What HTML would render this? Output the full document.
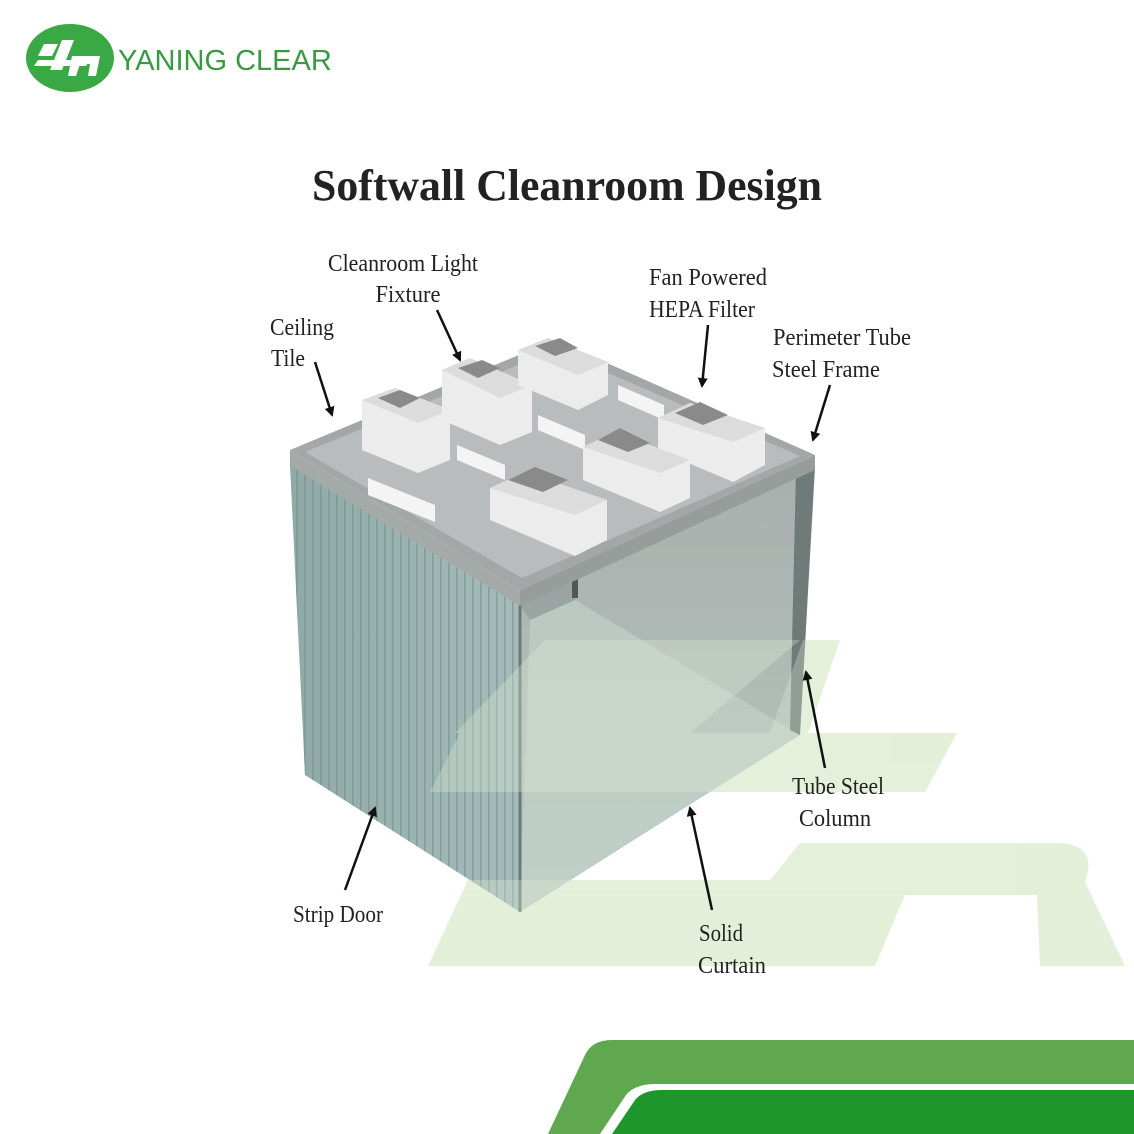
<!DOCTYPE html>
<html><head><meta charset="utf-8"><style>
html,body{margin:0;padding:0;background:#fff;}
svg{display:block}
text{font-family:"Liberation Serif",serif;fill:#222;}
</style></head><body>
<svg width="1134" height="1134" viewBox="0 0 1134 1134" xmlns="http://www.w3.org/2000/svg">
<defs>
<marker id="ah" markerWidth="10" markerHeight="10" refX="8" refY="5" orient="auto" markerUnits="userSpaceOnUse" viewBox="0 0 10 10">
<path d="M0,0 L10,5 L0,10 z" fill="#111"/></marker>
<linearGradient id="lw" x1="0" y1="0" x2="1" y2="0">
<stop offset="0" stop-color="#8fa9a6"/><stop offset="1" stop-color="#a6bcbb"/></linearGradient>
<linearGradient id="rw" x1="0" y1="0" x2="0" y2="1">
<stop offset="0" stop-color="#a9afad"/><stop offset="1" stop-color="#b7c8bf"/></linearGradient>
<pattern id="strip" width="8" height="10" patternUnits="userSpaceOnUse">
<rect width="8" height="10" fill="none"/><rect x="0" width="1.6" height="10" fill="#6f8f8b" opacity="0.6"/></pattern>
</defs>

<!-- watermark -->
<g fill="#e4f0da">
<polygon points="803,640 840,640 808,733 770,733"/>
<polygon points="460,733 957,733 925,792 430,792"/>
<path d="M428,966 L468,880 L770,880 L800,843 L1060,843 Q1098,845 1085,882 L1125,966 L1040,966 L1037,895 L905,895 L875,966 Z"/>
</g>

<!-- logo -->
<ellipse cx="70" cy="58" rx="44" ry="34" fill="#3aa845"/>
<g fill="#fff">
<polygon points="44,44 58,44 52,56 38,56"/>
<polygon points="62,40 74,40 62,70 50,70"/>
<polygon points="38,60 90,60 86,66 34,66"/>
<polygon points="72,56 100,56 96,76 88,76 90,64 80,64 76,76 68,76"/>
</g>
<text x="118" y="70" style="font-family:'Liberation Sans',sans-serif;fill:#3a9a43" font-size="29">YANING CLEAR</text>

<!-- title -->
<text x="567" y="200" text-anchor="middle" font-size="44" font-weight="bold" textLength="510" lengthAdjust="spacingAndGlyphs">Softwall Cleanroom Design</text>

<!-- cube walls -->
<polygon points="290,465 520,605 520,912 305,775" fill="url(#lw)"/>
<polygon points="290,465 520,605 520,912 305,775" fill="url(#strip)"/>
<polygon points="520,605 815,470 800,735 520,912" fill="url(#rw)"/>
<polygon points="575,600 800,735 520,912 530,620" fill="#c5d3cc" opacity="0.6"/>
<polygon points="520,605 575,580 575,600 530,620" fill="#9aa4a2"/>
<rect x="572" y="568" width="6" height="30" fill="#555"/>
<polygon points="796,470 815,462 800,735 790,730" fill="#6f7b78"/>
<line x1="520" y1="605" x2="520" y2="912" stroke="#6a7a78" stroke-width="3"/>

<!-- watermark overlay through cube -->
<g fill="#e4f0da" opacity="0.3">
<polygon points="803,640 840,640 808,733 770,733"/>
<polygon points="460,733 957,733 925,792 430,792"/>
<path d="M428,966 L468,880 L770,880 L800,843 L1060,843 Q1098,845 1085,882 L1125,966 L1040,966 L1037,895 L905,895 L875,966 Z"/>
<polygon points="545,640 800,640 690,733 455,733"/>
</g>

<!-- top -->
<polygon points="290,450 555,340 815,455 520,590" fill="#a3a7a7"/>
<polygon points="305,452 555,350 800,456 522,578" fill="#b9bcbc"/>
<polygon points="290,450 520,590 520,606 290,466" fill="#a4aaa8"/>
<polygon points="520,590 815,455 815,470 520,606" fill="#979d9b"/>

<!-- white panels -->
<g fill="#f4f4f4">
<polygon points="368,478 435,505 435,522 368,495"/>
<polygon points="457,445 505,465 505,480 457,460"/>
<polygon points="538,415 585,435 585,450 538,430"/>
<polygon points="618,385 664,405 664,420 618,400"/>
</g>
<!-- fixtures -->
<g>
<polygon points="362,400 395,388 450,410 450,460 418,473 362,450" fill="#ececec"/>
<polygon points="362,400 395,388 450,410 418,423" fill="#dcdcdc"/>
<polygon points="378,398 400,390 420,398 400,408" fill="#8a8a8a"/>
<polygon points="442,370 470,358 532,385 532,432 500,445 442,420" fill="#ececec"/>
<polygon points="442,370 470,358 532,385 500,398" fill="#dcdcdc"/>
<polygon points="458,368 482,360 500,368 478,378" fill="#8a8a8a"/>
<polygon points="518,350 548,338 608,362 608,395 578,410 518,385" fill="#ececec"/>
<polygon points="518,350 548,338 608,362 578,375" fill="#dcdcdc"/>
<polygon points="535,346 560,338 578,348 555,356" fill="#8a8a8a"/>
<polygon points="658,418 690,403 765,428 765,465 733,482 658,450" fill="#ececec"/>
<polygon points="658,418 690,403 765,428 733,442" fill="#dcdcdc"/>
<polygon points="675,413 700,402 728,415 703,425" fill="#8a8a8a"/>
<polygon points="583,447 615,432 690,460 690,498 660,512 583,480" fill="#ececec"/>
<polygon points="583,447 615,432 690,460 660,473" fill="#dcdcdc"/>
<polygon points="598,440 620,428 650,443 628,452" fill="#8a8a8a"/>
<polygon points="490,488 525,472 607,500 607,540 575,556 490,520" fill="#ececec"/>
<polygon points="490,488 525,472 607,500 575,515" fill="#dcdcdc"/>
<polygon points="508,480 535,467 568,480 543,492" fill="#8a8a8a"/>
</g>

<!-- arrows -->
<g stroke="#111" stroke-width="2.5" fill="none" marker-end="url(#ah)">
<line x1="315" y1="362" x2="332" y2="415"/>
<line x1="437" y1="310" x2="460" y2="360"/>
<line x1="708" y1="325" x2="702" y2="386"/>
<line x1="830" y1="385" x2="813" y2="440"/>
<line x1="825" y1="768" x2="806" y2="672"/>
<line x1="345" y1="890" x2="375" y2="808"/>
<line x1="712" y1="910" x2="690" y2="808"/>
</g>

<!-- labels -->
<g font-size="24">
<text x="403" y="271" text-anchor="middle" textLength="150" lengthAdjust="spacingAndGlyphs">Cleanroom Light</text>
<text x="408" y="302" text-anchor="middle" textLength="65" lengthAdjust="spacingAndGlyphs">Fixture</text>
<text x="302" y="335" text-anchor="middle" textLength="64" lengthAdjust="spacingAndGlyphs">Ceiling</text>
<text x="288" y="366" text-anchor="middle" textLength="34" lengthAdjust="spacingAndGlyphs">Tile</text>
<text x="708" y="285" text-anchor="middle" textLength="118" lengthAdjust="spacingAndGlyphs">Fan Powered</text>
<text x="702" y="317" text-anchor="middle" textLength="106" lengthAdjust="spacingAndGlyphs">HEPA Filter</text>
<text x="842" y="345" text-anchor="middle" textLength="138" lengthAdjust="spacingAndGlyphs">Perimeter Tube</text>
<text x="826" y="377" text-anchor="middle" textLength="108" lengthAdjust="spacingAndGlyphs">Steel Frame</text>
<text x="838" y="794" text-anchor="middle" textLength="92" lengthAdjust="spacingAndGlyphs">Tube Steel</text>
<text x="835" y="826" text-anchor="middle" textLength="72" lengthAdjust="spacingAndGlyphs">Column</text>
<text x="338" y="922" text-anchor="middle" textLength="90" lengthAdjust="spacingAndGlyphs">Strip Door</text>
<text x="721" y="941" text-anchor="middle" textLength="44" lengthAdjust="spacingAndGlyphs">Solid</text>
<text x="732" y="973" text-anchor="middle" textLength="68" lengthAdjust="spacingAndGlyphs">Curtain</text>
</g>

<!-- bottom bands -->
<path d="M548,1134 L585,1055 Q592,1040 612,1040 L1134,1040 L1134,1134 Z" fill="#5fa84f"/>
<path d="M600,1134 L626,1095 Q635,1084 655,1084 L1134,1084 L1134,1134 Z" fill="#fff"/>
<path d="M612,1134 L635,1100 Q643,1090 662,1090 L1134,1090 L1134,1134 Z" fill="#1f962c"/>
</svg>
</body></html>
